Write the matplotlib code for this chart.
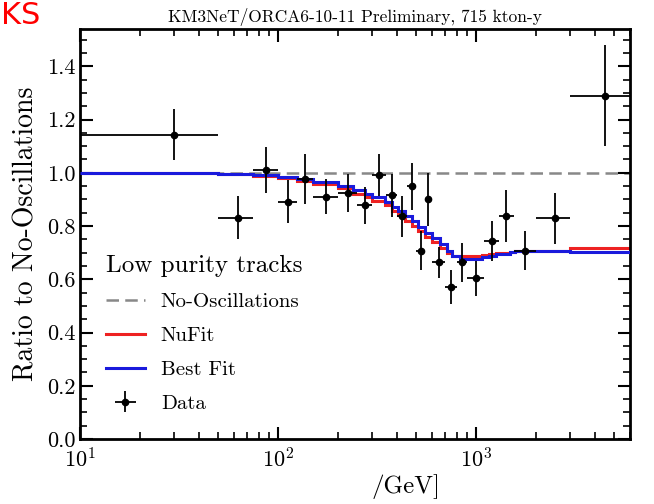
import numpy as np
import matplotlib
matplotlib.use("Agg")
import matplotlib.pyplot as plt
from matplotlib.ticker import LogLocator, MultipleLocator

# ---------------- data ----------------
# data bins (GeV) and measured ratio
data_edges = [10, 50, 75, 100, 125, 150, 200, 250, 300, 350, 400, 450, 500,
              550, 600, 700, 800, 900, 1100, 1300, 1550, 2000, 3000, 6000]
data_ratio = [1.143, 0.831, 1.011, 0.892, 0.977, 0.910, 0.924, 0.878, 0.992,
              0.915, 0.836, 0.949, 0.708, 0.901, 0.663, 0.570, 0.663, 0.604,
              0.742, 0.838, 0.708, 0.829, 1.290]
data_err = [0.095, 0.080, 0.087, 0.080, 0.094, 0.066, 0.070, 0.070, 0.080,
            0.080, 0.076, 0.088, 0.072, 0.100, 0.060, 0.063, 0.075, 0.066,
            0.075, 0.097, 0.073, 0.095, 0.190]

# model step curves
model_edges = [10, 50, 75, 100, 125, 150, 200, 240, 275, 300, 347, 376, 404,
               438, 475, 509, 553, 600, 658, 714, 758, 830, 1078, 1170, 1270,
               1490, 1570, 3000, 6000]
bestfit = [1.000, 0.995, 0.990, 0.984, 0.976, 0.966, 0.952, 0.935, 0.921,
           0.908, 0.892, 0.873, 0.855, 0.836, 0.817, 0.798, 0.775, 0.755,
           0.732, 0.706, 0.688, 0.676, 0.683, 0.688, 0.695, 0.701, 0.706, 0.704]
nufit = [1.000, 0.994, 0.988, 0.980, 0.970, 0.958, 0.942, 0.922, 0.908,
         0.895, 0.878, 0.858, 0.840, 0.820, 0.801, 0.782, 0.760, 0.740,
         0.718, 0.697, 0.688, 0.686, 0.692, 0.695, 0.700, 0.704, 0.707, 0.716]
no_osc = 1.0

title = "KM3NeT/ORCA6-10-11 Preliminary, 715 kton-y"
legend_title = "Low purity tracks"

# ---------------- style ----------------
plt.rcParams['font.family'] = ['cmr10', 'DejaVu Serif']
plt.rcParams['mathtext.fontset'] = 'cm'
plt.rcParams['axes.formatter.use_mathtext'] = True

fig = plt.figure(figsize=(6.54, 5.04), dpi=100)
ax = fig.add_axes([80/654, 1-439/504, 550/654, 410/504])

lo = np.array(data_edges[:-1], float)
hi = np.array(data_edges[1:], float)
xc = (lo + hi) / 2
yv = np.array(data_ratio)

# no oscillation line
ax.plot([data_edges[0], data_edges[-1]], [no_osc, no_osc], ls=(0, (5, 2.5)),
        color='#888888', lw=1.8, label='No-Oscillations', zorder=1)

me = np.array(model_edges, float)
ax.stairs(nufit, me, color='#ee2222', lw=2.2, label='NuFit', zorder=2,
          baseline=None)
ax.stairs(bestfit, me, color='#1a1adc', lw=2.2, label='Best Fit', zorder=3,
          baseline=None)

ax.errorbar(xc, yv, yerr=data_err, xerr=[xc - lo, hi - xc], fmt='o',
            color='black', ms=4.5, elinewidth=1.3, capsize=0, label='Data',
            zorder=4)

ax.set_xscale('log')
ax.set_xlim(10, 6000)
ax.set_ylim(0, 1.54)

ax.yaxis.set_major_locator(MultipleLocator(0.2))
ax.yaxis.set_minor_locator(MultipleLocator(0.05))
ax.yaxis.set_major_formatter(matplotlib.ticker.FormatStrFormatter('%.1f'))
ax.xaxis.set_major_locator(LogLocator(base=10, numticks=10))
ax.xaxis.set_minor_locator(LogLocator(base=10, subs=np.arange(2, 10), numticks=20))
ax.xaxis.set_minor_formatter(matplotlib.ticker.NullFormatter())

ax.tick_params(which='both', direction='in', top=True, right=True,
               labelsize=16, width=1.5)
ax.tick_params(which='major', length=9)
ax.tick_params(which='minor', length=5, width=1.2)
ax.tick_params(axis='x', which='major', pad=6)
for s in ax.spines.values():
    s.set_linewidth(2.0)

ax.set_ylabel('Ratio to No-Oscillations', fontsize=20, labelpad=5)
ax.set_xlabel('/GeV]', fontsize=18, labelpad=2)
ax.xaxis.set_label_coords((406 - 80) / 550, -0.085)
ax.set_title(title, fontsize=12.5, pad=5)

leg = ax.legend(loc='lower left', bbox_to_anchor=(0.02, 0.028), frameon=False,
                title=legend_title, fontsize=15, title_fontsize=18,
                handlelength=1.9, labelspacing=0.74, borderaxespad=0.3,
                handletextpad=0.75)
leg._legend_box.align = 'left'

fig.text(0.002, 0.998, 'KS', color='#ff0000', fontsize=22, ha='left',
         va='top', family='DejaVu Sans')

fig.savefig('out.png', dpi=100)
